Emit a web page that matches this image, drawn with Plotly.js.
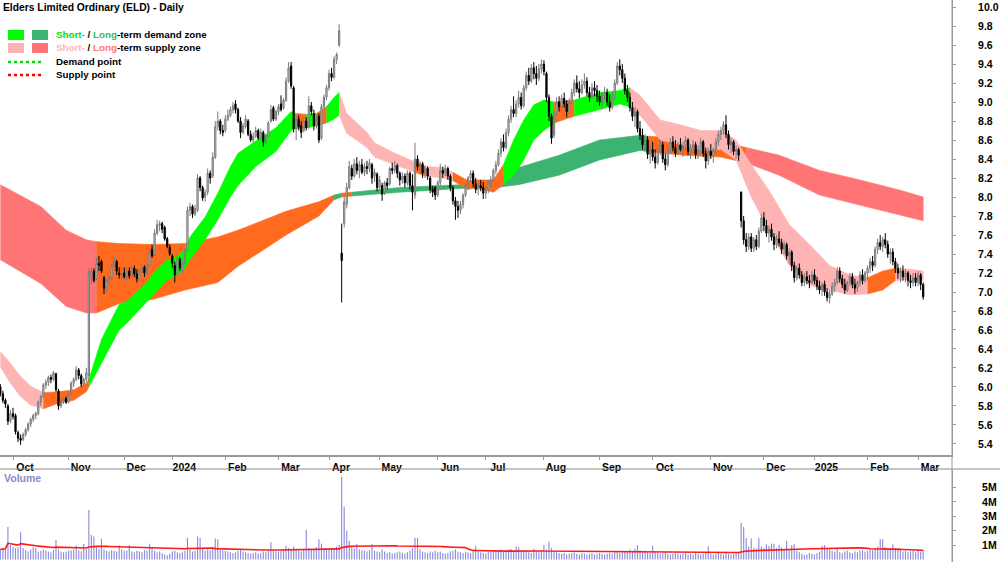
<!DOCTYPE html>
<html>
<head>
<meta charset="utf-8">
<script src="https://cdn.plot.ly/plotly-3.0.1.min.js"></script>
<style>html,body{margin:0;padding:0;background:#fff;}#chart{width:1000px;height:562px;}</style>
</head>
<body>
<div id="chart"></div>
<script>
// ---------------- DATA ----------------
const firstDay = '2023-09-25';
const holidays = ['2023-12-25','2023-12-26','2024-01-01','2024-01-26','2024-03-29','2024-04-01',
  '2024-04-25','2024-06-10','2024-12-25','2024-12-26','2025-01-01','2025-01-27'];
const monthLabels = ['Oct','Nov','Dec','2024','Feb','Mar','Apr','May','Jun','Jul','Aug','Sep','Oct','Nov','Dec','2025','Feb','Mar'];

const open = [
 6.00,5.93,5.86,5.80,5.64,
 5.72,5.70,5.52,5.46,5.45,5.50,5.55,5.61,5.66,5.70,5.72,5.84,5.90,6.02,6.05,6.10,6.08,6.14,5.96,5.80,5.85,5.88,
 5.84,5.93,6.04,6.08,6.18,6.12,6.03,6.08,6.12,7.16,7.22,7.14,7.30,7.32,7.15,7.05,7.12,7.15,7.28,7.32,7.20,7.18,
 7.20,7.16,7.22,7.17,7.25,7.19,7.14,7.22,7.26,7.20,7.28,7.45,7.40,7.62,7.70,7.72,7.68,7.56,7.47,
 7.38,7.28,7.20,7.35,7.25,7.32,7.44,7.86,7.90,7.82,7.86,8.20,8.10,8.00,8.05,8.25,8.22,8.42,8.74,8.80,8.70,
 8.70,8.82,8.86,8.92,8.98,8.92,8.80,8.68,8.74,8.80,8.66,8.60,8.64,8.70,8.62,8.68,8.58,8.64,8.80,8.94,8.82,
 8.90,8.98,8.94,9.02,9.22,9.38,9.15,8.72,8.82,8.75,8.70,8.80,8.73,8.96,8.88,8.75,8.85,8.62,8.95,9.05,
 9.15,9.30,9.26,9.45,9.60,7.41,7.72,7.92,8.10,8.30,8.22,8.35,8.28,8.34,8.26,8.32,8.30,8.34,8.22,8.24,
 8.10,8.12,8.05,8.15,8.14,8.30,8.28,8.33,8.25,8.18,8.22,8.15,8.25,8.12,8.02,8.40,8.32,8.35,8.25,8.30,8.20,8.08,8.10,
 8.02,8.15,8.28,8.25,8.30,8.22,8.10,7.96,7.90,7.86,7.92,8.02,8.12,8.20,8.25,8.14,8.08,8.12,8.10,
 8.04,8.08,8.15,8.18,8.28,8.34,8.46,8.58,8.52,8.68,8.82,8.92,8.88,8.98,9.05,8.96,9.15,9.28,9.22,9.36,9.30,9.25,9.35,
 9.40,9.30,9.05,8.85,8.65,8.88,9.00,8.95,9.04,8.98,8.90,9.00,9.10,9.20,9.14,9.10,9.18,9.22,9.10,9.05,9.15,9.12,
 9.06,9.00,9.08,9.10,9.00,8.94,9.05,9.20,9.38,9.34,9.25,9.12,9.05,8.94,8.85,8.90,8.72,8.65,8.55,8.60,8.45,
 8.50,8.42,8.36,8.48,8.55,8.40,8.34,8.50,8.58,8.52,8.46,8.55,8.50,8.54,8.60,8.48,8.52,8.55,8.45,8.50,8.58,8.46,8.38,
 8.48,8.44,8.50,8.58,8.66,8.70,8.76,8.66,8.55,8.58,8.48,8.50,8.05,7.75,7.55,7.48,7.58,7.46,7.55,7.48,7.64,
 7.78,7.70,7.62,7.66,7.58,7.50,7.56,7.52,7.45,7.50,7.38,7.42,7.28,7.15,7.25,7.18,7.10,7.16,7.12,7.10,
 7.18,7.12,7.06,7.02,7.08,7.00,6.94,6.98,7.06,7.10,7.22,7.14,7.08,7.02,7.10,7.16,7.08,7.04,7.10,7.18,7.12,
 7.20,7.25,7.32,7.28,7.45,7.52,7.48,7.55,7.50,7.40,7.42,7.32,7.25,7.20,7.22,7.16,7.20,7.12,7.10,7.15,
 7.10,7.18,7.08];
const high = [
 6.03,5.96,5.88,5.82,5.76,
 5.78,5.72,5.54,5.50,5.52,5.57,5.63,5.68,5.72,5.74,5.86,5.92,6.04,6.08,6.12,6.13,6.17,6.15,5.98,5.88,5.90,5.90,
 5.94,6.06,6.10,6.22,6.20,6.14,6.10,6.20,7.25,7.26,7.25,7.36,7.38,7.34,7.17,7.14,7.18,7.30,7.38,7.34,7.26,7.24,
 7.26,7.25,7.26,7.28,7.28,7.24,7.25,7.30,7.28,7.30,7.47,7.50,7.66,7.76,7.75,7.74,7.70,7.58,7.50,
 7.40,7.32,7.40,7.37,7.34,7.46,7.90,7.94,7.92,7.92,8.24,8.22,8.12,8.08,8.30,8.28,8.47,8.80,8.90,8.82,8.76,
 8.86,8.92,8.95,9.00,9.02,8.94,8.84,8.78,8.86,8.82,8.70,8.68,8.74,8.72,8.72,8.70,8.66,8.80,8.97,8.96,8.92,
 8.98,9.07,9.04,9.26,9.42,9.42,9.17,8.86,8.86,8.80,8.84,8.84,9.06,9.00,8.92,8.86,8.88,8.98,9.08,9.18,
 9.34,9.36,9.48,9.52,9.82,7.72,8.00,8.15,8.38,8.34,8.40,8.42,8.38,8.40,8.36,8.38,8.40,8.36,8.30,8.26,
 8.22,8.15,8.17,8.20,8.32,8.36,8.38,8.35,8.27,8.26,8.25,8.28,8.27,8.24,8.57,8.44,8.38,8.37,8.33,8.32,8.22,8.12,8.12,
 8.18,8.35,8.32,8.34,8.32,8.24,8.12,8.00,7.96,7.96,8.04,8.14,8.22,8.28,8.28,8.20,8.16,8.18,8.16,
 8.12,8.18,8.22,8.30,8.38,8.50,8.62,8.66,8.72,8.86,8.96,9.06,9.02,9.12,9.10,9.18,9.32,9.36,9.40,9.42,9.38,9.40,9.45,
 9.44,9.32,9.08,8.88,8.92,9.05,9.06,9.08,9.10,9.02,9.04,9.14,9.24,9.28,9.22,9.24,9.30,9.26,9.16,9.20,9.22,9.18,
 9.12,9.10,9.16,9.14,9.08,9.10,9.24,9.42,9.45,9.40,9.30,9.18,9.10,9.00,8.95,8.92,8.80,8.72,8.66,8.64,8.55,
 8.58,8.50,8.52,8.60,8.58,8.46,8.52,8.62,8.64,8.60,8.58,8.62,8.58,8.64,8.62,8.56,8.60,8.58,8.54,8.62,8.60,8.52,8.52,
 8.56,8.52,8.62,8.70,8.74,8.80,8.86,8.70,8.62,8.60,8.54,8.52,8.06,7.80,7.62,7.62,7.62,7.58,7.60,7.68,7.82,
 7.84,7.76,7.70,7.72,7.62,7.60,7.64,7.56,7.54,7.52,7.46,7.44,7.32,7.28,7.30,7.22,7.20,7.22,7.18,7.22,
 7.24,7.16,7.12,7.10,7.12,7.04,7.02,7.10,7.14,7.26,7.26,7.18,7.14,7.12,7.20,7.20,7.14,7.12,7.22,7.24,7.22,
 7.28,7.36,7.38,7.48,7.56,7.60,7.58,7.62,7.54,7.46,7.46,7.36,7.30,7.26,7.28,7.24,7.22,7.18,7.20,7.20,
 7.22,7.20,7.10];
const low = [
 5.90,5.83,5.78,5.60,5.62,
 5.66,5.50,5.42,5.39,5.43,5.48,5.53,5.58,5.63,5.66,5.70,5.80,5.88,5.98,6.01,6.04,6.06,5.95,5.76,5.78,5.82,5.82,
 5.83,5.91,6.00,6.06,6.08,6.00,6.01,6.05,6.06,7.08,7.10,7.12,7.22,7.20,6.98,7.00,7.08,7.13,7.26,7.18,7.14,7.12,
 7.14,7.12,7.14,7.15,7.16,7.10,7.12,7.20,7.16,7.18,7.26,7.36,7.38,7.60,7.64,7.62,7.54,7.46,7.38,
 7.25,7.10,7.16,7.22,7.20,7.28,7.42,7.80,7.78,7.80,7.84,8.06,7.96,7.95,8.02,8.14,8.20,8.40,8.70,8.66,8.64,
 8.68,8.80,8.84,8.88,8.88,8.78,8.62,8.66,8.72,8.64,8.58,8.57,8.62,8.60,8.60,8.53,8.55,8.62,8.78,8.80,8.80,
 8.86,8.90,8.92,9.00,9.20,9.14,8.68,8.60,8.70,8.62,8.68,8.70,8.72,8.86,8.70,8.72,8.57,8.60,8.92,9.02,
 9.12,9.22,9.24,9.40,9.58,6.89,7.68,7.88,8.08,8.18,8.20,8.24,8.20,8.24,8.22,8.24,8.26,8.14,8.16,8.06,
 8.08,7.96,8.02,8.08,8.12,8.24,8.25,8.20,8.12,8.14,8.10,8.12,8.08,7.86,7.98,8.28,8.26,8.20,8.20,8.18,8.04,8.00,7.97,
 8.00,8.12,8.20,8.22,8.18,8.06,7.92,7.76,7.78,7.82,7.88,8.00,8.08,8.16,8.10,8.04,8.02,8.06,7.98,
 7.98,8.04,8.10,8.16,8.24,8.32,8.42,8.48,8.50,8.64,8.78,8.84,8.84,8.94,8.92,8.94,9.12,9.18,9.20,9.24,9.18,9.22,9.30,
 9.28,9.00,8.80,8.56,8.62,8.85,8.90,8.92,8.94,8.84,8.88,8.98,9.06,9.10,9.04,9.08,9.14,9.06,9.00,9.02,9.06,9.00,
 8.96,8.92,9.02,8.96,8.90,8.92,9.02,9.18,9.28,9.20,9.08,9.00,8.90,8.80,8.74,8.68,8.60,8.50,8.48,8.40,8.35,
 8.38,8.30,8.34,8.44,8.36,8.28,8.32,8.46,8.48,8.42,8.44,8.48,8.42,8.50,8.44,8.40,8.46,8.40,8.40,8.46,8.42,8.30,8.34,
 8.40,8.36,8.46,8.54,8.60,8.66,8.62,8.50,8.46,8.44,8.40,8.38,7.68,7.50,7.42,7.44,7.42,7.42,7.44,7.46,7.62,
 7.64,7.58,7.52,7.54,7.44,7.46,7.48,7.40,7.40,7.34,7.30,7.22,7.10,7.12,7.14,7.06,7.06,7.08,7.04,7.08,
 7.08,7.02,6.98,6.96,6.96,6.90,6.88,6.96,7.00,7.08,7.10,7.04,6.98,7.00,7.06,7.04,6.98,7.00,7.06,7.08,7.10,
 7.12,7.20,7.22,7.26,7.40,7.44,7.42,7.46,7.36,7.30,7.28,7.20,7.14,7.10,7.12,7.10,7.06,7.04,7.06,7.06,
 7.06,7.02,6.92];
const close = [
 5.93,5.86,5.82,5.64,5.72,
 5.69,5.53,5.46,5.44,5.50,5.55,5.61,5.66,5.70,5.72,5.84,5.90,6.02,6.05,6.10,6.08,6.15,5.97,5.80,5.85,5.88,5.84,
 5.92,6.04,6.08,6.18,6.12,6.03,6.08,6.15,7.20,7.22,7.12,7.30,7.28,7.22,7.04,7.12,7.15,7.28,7.33,7.22,7.18,7.20,
 7.16,7.22,7.17,7.25,7.19,7.14,7.22,7.26,7.20,7.28,7.42,7.38,7.62,7.71,7.72,7.66,7.56,7.48,7.40,
 7.30,7.18,7.35,7.25,7.30,7.44,7.86,7.90,7.82,7.88,8.20,8.10,7.99,8.05,8.25,8.20,8.42,8.74,8.80,8.70,8.68,
 8.82,8.86,8.92,8.96,8.92,8.80,8.68,8.75,8.82,8.66,8.60,8.64,8.70,8.62,8.68,8.58,8.62,8.78,8.92,8.82,8.90,
 8.95,8.92,9.02,9.22,9.36,9.17,8.72,8.82,8.74,8.68,8.80,8.73,8.96,8.90,8.75,8.82,8.60,8.95,9.05,9.15,
 9.30,9.26,9.45,9.50,9.75,7.33,7.95,8.10,8.32,8.22,8.35,8.28,8.34,8.26,8.32,8.30,8.36,8.20,8.26,8.10,
 8.18,8.03,8.15,8.12,8.30,8.28,8.33,8.25,8.18,8.22,8.15,8.25,8.12,8.05,8.40,8.32,8.35,8.25,8.30,8.22,8.08,8.05,8.02,
 8.15,8.28,8.25,8.30,8.22,8.10,7.96,7.90,7.86,7.92,8.02,8.12,8.20,8.25,8.14,8.08,8.12,8.10,8.04,
 8.08,8.15,8.18,8.28,8.34,8.46,8.58,8.52,8.68,8.82,8.92,8.88,8.98,9.05,8.96,9.15,9.28,9.22,9.36,9.30,9.25,9.35,9.40,
 9.32,9.05,8.85,8.62,8.88,9.00,8.95,9.04,8.98,8.90,9.00,9.10,9.20,9.14,9.10,9.18,9.22,9.10,9.05,9.15,9.12,9.06,
 9.00,9.08,9.10,9.00,8.94,9.05,9.20,9.38,9.34,9.25,9.12,9.05,8.94,8.85,8.90,8.72,8.65,8.55,8.60,8.45,8.50,
 8.42,8.36,8.48,8.55,8.40,8.34,8.50,8.58,8.52,8.46,8.55,8.50,8.54,8.60,8.48,8.52,8.55,8.45,8.50,8.58,8.46,8.38,8.48,
 8.44,8.50,8.58,8.66,8.70,8.76,8.66,8.55,8.58,8.48,8.50,8.44,7.75,7.55,7.48,7.58,7.46,7.55,7.48,7.64,7.78,
 7.70,7.62,7.66,7.58,7.50,7.56,7.52,7.45,7.50,7.38,7.42,7.28,7.15,7.25,7.18,7.10,7.16,7.12,7.10,7.18,
 7.12,7.06,7.02,7.08,7.00,6.94,6.98,7.06,7.10,7.22,7.14,7.08,7.02,7.10,7.16,7.08,7.04,7.10,7.18,7.12,7.20,
 7.25,7.32,7.28,7.45,7.52,7.48,7.55,7.50,7.40,7.42,7.32,7.25,7.20,7.22,7.16,7.20,7.12,7.10,7.15,7.10,
 7.18,7.08,6.95];
// volume, millions of shares
const volume = [
 0.70,0.75,0.80,2.25,1.00,
 0.85,0.80,0.85,1.90,0.80,0.65,0.55,0.70,0.85,0.80,0.55,0.60,0.70,0.60,0.55,0.50,0.65,1.35,0.70,0.55,0.50,0.55,
 0.60,0.65,0.70,0.97,0.65,0.55,1.10,0.70,3.44,1.70,1.60,0.85,0.75,1.45,0.70,0.60,0.55,0.65,0.60,0.55,1.00,0.70,
 0.60,0.65,1.00,0.55,0.50,0.60,0.55,0.50,0.65,0.60,1.10,0.80,0.60,0.50,0.55,0.45,0.35,0.30,0.40,
 0.55,0.60,0.50,0.45,0.55,0.60,1.50,0.70,0.55,0.60,1.60,1.50,0.80,0.60,0.70,0.65,0.80,1.45,1.40,0.70,0.65,
 0.60,0.55,0.50,0.45,0.50,0.60,0.70,0.55,0.50,0.45,0.40,0.45,0.50,0.40,0.45,0.55,0.50,0.60,1.20,0.60,0.55,
 0.55,0.60,0.70,0.95,0.80,0.70,0.90,0.75,0.60,0.55,0.70,2.05,0.80,0.70,0.75,0.85,1.40,1.10,0.80,0.75,
 0.70,0.75,0.80,0.90,1.00,5.75,3.67,2.00,1.30,0.90,0.80,1.10,0.70,0.65,0.60,0.55,0.65,1.10,0.60,0.55,
 0.50,0.70,0.55,0.45,0.50,0.40,0.45,0.50,0.55,0.45,0.40,0.50,0.60,0.80,1.50,1.50,0.70,0.55,0.50,0.45,0.55,0.50,0.60,
 0.50,0.55,0.45,0.40,0.45,0.55,0.60,0.70,0.55,0.50,0.45,0.55,0.50,0.45,0.60,0.95,0.55,0.50,0.45,
 0.40,0.50,0.55,0.60,0.65,0.60,0.70,0.55,0.65,0.70,0.75,0.60,0.90,0.85,0.65,0.55,0.60,0.50,0.45,0.75,0.55,0.50,0.60,
 1.00,0.70,1.25,0.80,0.60,0.50,0.45,0.40,0.45,0.35,0.40,0.45,0.50,0.40,0.35,0.45,0.40,0.35,0.40,0.45,0.35,0.40,
 0.45,0.40,0.35,0.40,0.45,0.40,0.50,0.55,0.45,0.60,0.55,0.50,0.70,0.60,0.75,1.00,0.65,0.55,0.60,0.50,0.45,
 0.95,0.50,0.45,0.40,0.45,0.50,0.40,0.35,0.40,0.45,0.40,0.35,0.40,0.45,0.35,0.40,0.35,0.45,0.40,0.35,0.40,0.50,0.90,
 0.40,0.35,0.40,0.45,0.40,0.35,0.45,0.40,0.35,0.40,0.45,0.50,2.55,2.25,1.50,0.90,1.45,0.80,0.75,1.50,0.90,
 0.80,1.05,0.95,1.10,1.10,0.80,1.00,0.85,0.70,1.30,0.75,1.00,1.05,0.60,0.50,0.40,0.30,0.35,0.45,0.40,
 0.35,0.45,0.55,0.95,1.00,0.80,0.70,0.60,0.55,0.75,0.50,0.45,0.55,0.60,0.50,0.45,0.55,0.50,0.60,0.65,0.55,
 0.60,0.70,0.65,0.80,0.90,1.40,1.40,0.85,0.70,0.75,1.05,0.80,0.80,0.65,0.55,0.60,0.50,0.55,0.60,0.50,
 0.70,0.55,0.65];

// Short-term zone band, read at key bars (bar number counted from first candle)
const stBar  = [0,4,8,12,17,23,29,34,35,40,47,50,58,60,66,69,73,75,81,86,91,94,101,109,115,117,121,125,129,132,134,137,145,148,156,164,168,175,179,185,188,195,199,203,207,211,215,219,227,237,245,249,253,261,269,277,285,291,297,304,312,320,328,336,343,349,354,360,365];
const stLow  = [6.21,6.04,5.90,5.81,5.77,5.83,5.86,5.95,6.00,6.25,6.60,6.67,6.90,6.95,7.13,7.16,7.25,7.34,7.55,7.76,8.00,8.12,8.32,8.48,8.70,8.72,8.73,8.75,8.78,8.82,8.86,8.67,8.52,8.42,8.34,8.26,8.22,8.20,8.17,8.08,8.10,8.05,8.13,8.23,8.39,8.60,8.70,8.78,8.85,8.92,8.98,8.95,8.86,8.60,8.55,8.49,8.50,8.39,8.00,7.65,7.28,7.07,7.02,6.97,6.98,7.02,7.12,7.13,7.12];
const stHigh = [6.37,6.25,6.11,6.01,5.94,5.95,5.97,6.04,6.08,6.50,6.87,6.90,7.10,7.18,7.34,7.36,7.44,7.58,7.79,8.04,8.32,8.46,8.59,8.73,8.90,8.88,8.87,8.88,8.95,9.05,9.10,8.88,8.68,8.57,8.46,8.37,8.32,8.31,8.26,8.17,8.18,8.18,8.34,8.60,8.81,8.97,9.02,9.00,9.02,9.10,9.12,9.15,9.07,8.81,8.76,8.70,8.70,8.60,8.34,8.07,7.71,7.50,7.28,7.18,7.15,7.22,7.25,7.24,7.22];
const stZone = ['S','S','S','S','N','N','N','N','D','D','D','D','D','D','D','D','D','D','D','D','D','D','D','D','D','N','D','N','D','D','S','S','S','S','S','N','S','S','N','N','N','N','D','D','D','D','D','N','D','D','D','S','S','S','S','S','S','S','S','S','S','S','S','S','N','N','S','S','S'];

// Long-term zone band
const ltBar  = [0,16,26,34,38,47,60,73,86,94,113,126,132,135,139,158,182,196,205,221,237,253,256,270,285,295,308,324,340,356,365];
const ltLow  = [7.34,7.09,6.85,6.78,6.78,6.88,6.92,7.02,7.10,7.27,7.60,7.80,7.97,8.00,8.01,8.05,8.09,8.10,8.13,8.23,8.39,8.49,8.48,8.44,8.42,8.36,8.23,8.02,7.92,7.81,7.75];
const ltHigh = [8.13,7.90,7.65,7.55,7.53,7.51,7.50,7.51,7.58,7.65,7.85,7.95,8.02,8.04,8.05,8.10,8.13,8.15,8.31,8.44,8.60,8.65,8.64,8.62,8.58,8.52,8.44,8.28,8.18,8.07,8.00];
const ltZone = ['S','S','S','S','N','N','N','N','N','N','N','N','D','N','D','D','D','D','D','D','D','D','N','N','N','S','S','S','S','S','S'];

// ---------------- BUILD ----------------
const N = close.length;
[open, high, low, volume].forEach((a, k) => { if (a.length !== N) throw new Error('length mismatch ' + k + ': ' + a.length + ' vs ' + N); });
if (stBar.length !== stLow.length || stBar.length !== stHigh.length || stBar.length !== stZone.length) throw new Error('st band lengths ' + [stBar.length, stLow.length, stHigh.length, stZone.length]);
if (ltBar.length !== ltLow.length || ltBar.length !== ltHigh.length || ltBar.length !== ltZone.length) throw new Error('lt band lengths ' + [ltBar.length, ltLow.length, ltHigh.length, ltZone.length]);

// trading calendar
const dates = [];
let d = new Date(firstDay + 'T00:00:00Z');
while (dates.length < N) {
  const iso = d.toISOString().slice(0, 10);
  const wd = d.getUTCDay();
  if (wd !== 0 && wd !== 6 && holidays.indexOf(iso) < 0) dates.push(iso);
  d = new Date(d.getTime() + 86400000);
}
const bars = dates.map((_, k) => k);
const tickBars = [];
for (let k = 1; k < N; k++) if (dates[k].slice(5, 7) !== dates[k - 1].slice(5, 7)) tickBars.push(k);

const FONT = 'Arial, "Liberation Sans", Helvetica, sans-serif';
const stColors = { D: '#00FF00', S: '#FFB4B4', N: '#FF6A1F' };
const ltColors = { D: '#3CB371', S: '#FF7474', N: '#FF6A1F' };

function bandTraces(bar, lo, hi, zone, colors) {
  const out = [];
  let s = 0;
  for (let k = 1; k <= bar.length; k++) {
    if (k === bar.length || zone[k] !== zone[s]) {
      const e = Math.min(k, bar.length - 1);
      if (e > s) {
        const xs = [], ys = [];
        for (let j = s; j <= e; j++) { xs.push(bar[j]); ys.push(hi[j]); }
        for (let j = e; j >= s; j--) { xs.push(bar[j]); ys.push(lo[j]); }
        out.push({ type: 'scatter', mode: 'lines', x: xs, y: ys, fill: 'toself',
          fillcolor: colors[zone[s]], line: { width: 0.6, color: colors[zone[s]] },
          hoverinfo: 'skip', showlegend: false, xaxis: 'x', yaxis: 'y' });
      }
      s = k;
    }
  }
  return out;
}

// 50-day average volume
const volAvg = volume.map((v, k) => {
  const a = Math.max(0, k - 49); let s = 0;
  for (let j = a; j <= k; j++) s += volume[j];
  return s / (k - a + 1);
});

const traces = []
  .concat(bandTraces(ltBar, ltLow, ltHigh, ltZone, ltColors))
  .concat(bandTraces(stBar, stLow, stHigh, stZone, stColors));

// candles on an overlaying axis so that they sit above the zone bands
traces.push({
  type: 'candlestick', x: bars, open: open, high: high, low: low, close: close,
  increasing: { line: { color: '#7A7A7A', width: 1 }, fillcolor: '#CFCFCF' },
  decreasing: { line: { color: '#000000', width: 1 }, fillcolor: '#000000' },
  whiskerwidth: 0, hoverinfo: 'skip', showlegend: false, xaxis: 'x', yaxis: 'y3'
});
traces.push({
  type: 'bar', x: bars, y: volume, width: 0.45, marker: { color: '#8C8CDC', line: { width: 0 } },
  hoverinfo: 'skip', showlegend: false, xaxis: 'x2', yaxis: 'y2'
});
traces.push({
  type: 'scatter', mode: 'lines', x: bars, y: volAvg, line: { color: '#FF1A1A', width: 1.6 },
  hoverinfo: 'skip', showlegend: false, xaxis: 'x2', yaxis: 'y2'
});

const H = 562, W = 1000;
const py = p => 1 - p / H;   // pixel-from-top to paper y
const px = p => p / W;

const axisFont = { family: FONT, size: 10.5, color: '#000', weight: 'bold' };
const xRange = [-0.14, 376.4];
const yRange = [5.284, 10.074];

const layout = {
  width: W, height: H, margin: { l: 0, r: 0, t: 0, b: 0 },
  paper_bgcolor: '#FFFFFF', plot_bgcolor: '#FFFFFF',
  showlegend: false, hovermode: false, dragmode: false,
  xaxis: {
    domain: [0, 0.952], range: xRange, anchor: 'y',
    showgrid: false, zeroline: false, showline: true, linecolor: '#9A9A9A', linewidth: 2,
    ticks: 'outside', ticklen: 3, tickcolor: '#9A9A9A', tickwidth: 1,
    tickmode: 'array', tickvals: tickBars, ticktext: monthLabels,
    tickfont: axisFont, ticklabelshift: 12, ticklabelstandoff: -2,
    rangeslider: { visible: false }, fixedrange: true
  },
  yaxis: {
    domain: [1 - 455 / H, 1], range: yRange, anchor: 'x', side: 'right',
    showgrid: false, zeroline: false, showline: true, linecolor: '#9A9A9A', linewidth: 1,
    ticks: 'outside', ticklen: 3, tickcolor: '#9A9A9A',
    tick0: 5.4, dtick: 0.2, tickformat: '.1f', tickfont: axisFont, ticklabelstandoff: 20,
    fixedrange: true
  },
  yaxis3: {
    overlaying: 'y', anchor: 'x', side: 'right', range: yRange,
    showgrid: false, zeroline: false, showline: false, showticklabels: false, ticks: '', fixedrange: true
  },
  xaxis2: {
    domain: [0, 0.952], range: xRange, anchor: 'y2', matches: 'x',
    showgrid: false, zeroline: false, showline: false, showticklabels: false, ticks: '', fixedrange: true
  },
  yaxis2: {
    domain: [0, 1 - 470 / H], range: [-0.174, 6.215], anchor: 'x2', side: 'right',
    showgrid: false, zeroline: false, showline: true, linecolor: '#9A9A9A', linewidth: 1,
    ticks: 'outside', ticklen: 3, tickcolor: '#9A9A9A',
    tickmode: 'array', tickvals: [1, 2, 3, 4, 5], ticktext: ['1M', '2M', '3M', '4M', '5M'],
    tickfont: axisFont, ticklabelstandoff: 24, fixedrange: true
  },
  shapes: [
    { type: 'line', xref: 'paper', yref: 'paper', x0: 0, x1: 1, y0: py(469), y1: py(469), line: { color: '#8A8A8A', width: 1 } },
    { type: 'line', xref: 'paper', yref: 'paper', x0: 0.952, x1: 0.952, y0: 0, y1: 1, line: { color: '#9A9A9A', width: 1 } },
    { type: 'rect', xref: 'paper', yref: 'paper', x0: px(8), x1: px(24), y0: py(40), y1: py(30), fillcolor: '#00FF00', line: { width: 0 } },
    { type: 'rect', xref: 'paper', yref: 'paper', x0: px(32), x1: px(48), y0: py(40), y1: py(30), fillcolor: '#3CB371', line: { width: 0 } },
    { type: 'rect', xref: 'paper', yref: 'paper', x0: px(8), x1: px(24), y0: py(53), y1: py(43), fillcolor: '#FFB4B4', line: { width: 0 } },
    { type: 'rect', xref: 'paper', yref: 'paper', x0: px(32), x1: px(48), y0: py(53), y1: py(43), fillcolor: '#FF7474', line: { width: 0 } },
    { type: 'line', xref: 'paper', yref: 'paper', x0: px(8), x1: px(44), y0: py(62), y1: py(62), line: { color: '#00DD00', width: 2.5, dash: 'dot' } },
    { type: 'line', xref: 'paper', yref: 'paper', x0: px(8), x1: px(44), y0: py(75), y1: py(75), line: { color: '#FF0000', width: 2.5, dash: 'dot' } }
  ],
  annotations: [
    { xref: 'paper', yref: 'paper', x: px(1), y: py(8), xanchor: 'left', yanchor: 'middle', showarrow: false,
      text: 'Elders Limited Ordinary (ELD) - Daily', font: { family: FONT, size: 10.3, color: '#000', weight: 'bold' } },
    { xref: 'paper', yref: 'paper', x: px(54), y: py(35), xanchor: 'left', yanchor: 'middle', showarrow: false,
      text: '<span style="color:#00E000">Short-</span> / <span style="color:#3CB371">Long</span>-term demand zone',
      font: { family: FONT, size: 9.8, color: '#000', weight: 'bold' } },
    { xref: 'paper', yref: 'paper', x: px(54), y: py(48), xanchor: 'left', yanchor: 'middle', showarrow: false,
      text: '<span style="color:#FFB4B4">Short-</span> / <span style="color:#FF7474">Long</span>-term supply zone',
      font: { family: FONT, size: 9.8, color: '#000', weight: 'bold' } },
    { xref: 'paper', yref: 'paper', x: px(54), y: py(62), xanchor: 'left', yanchor: 'middle', showarrow: false,
      text: 'Demand point', font: { family: FONT, size: 9.8, color: '#000', weight: 'bold' } },
    { xref: 'paper', yref: 'paper', x: px(54), y: py(75), xanchor: 'left', yanchor: 'middle', showarrow: false,
      text: 'Supply point', font: { family: FONT, size: 9.8, color: '#000', weight: 'bold' } },
    { xref: 'paper', yref: 'paper', x: px(2), y: py(478), xanchor: 'left', yanchor: 'middle', showarrow: false,
      text: 'Volume', font: { family: FONT, size: 10.5, color: '#8A8AC8', weight: 'bold' } }
  ]
};

Plotly.newPlot('chart', traces, layout, { displayModeBar: false, staticPlot: true });
</script>
</body>
</html>
